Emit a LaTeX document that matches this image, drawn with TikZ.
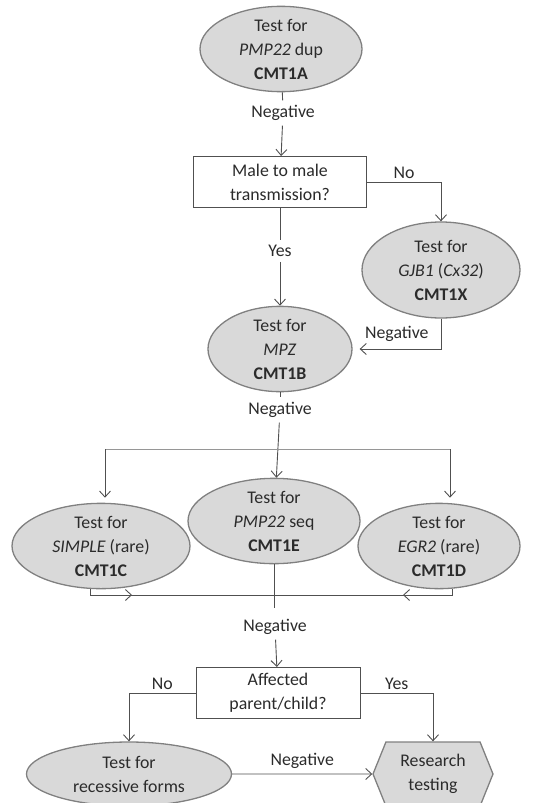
\documentclass[tikz,border=0pt]{standalone}
\usepackage{fontspec}
\setmainfont{Carlito}
\usetikzlibrary{shapes.geometric,shapes.symbols,arrows.meta}
\definecolor{txtgray}{HTML}{2B2B2B}
\definecolor{linegray}{HTML}{505050}
\definecolor{fillgray}{HTML}{D9D9D9}

\begin{document}
\begin{tikzpicture}[x=1pt,y=-1pt,line width=0.9pt,draw=linegray,text=txtgray,
  >={Straight Barb[length=6pt,width=11pt]},
  font=\fontsize{17.8}{24}\selectfont,
  test/.style={ellipse,draw=gray,line width=1.3pt,fill=fillgray,align=center,inner sep=0pt},
  question/.style={rectangle,draw=linegray,fill=white,align=center,minimum width=164pt,minimum height=51pt,inner sep=0pt},
  research/.style={signal,signal to=west and east,signal pointer angle=136,draw=gray,line width=1.3pt,fill=fillgray,align=center,minimum width=120pt,minimum height=64pt,inner sep=0pt},
  lbl/.style={inner sep=1pt,outer sep=4pt}]
\useasboundingbox (0,0) rectangle (534,803);

\node[test,minimum width=162pt,minimum height=80pt] (cmta) at (281,49) {Test for\\\textit{PMP22} dup\\\textbf{CMT1A}};
\node[lbl] (nega) at (283,113) {Negative};
\node[question,minimum width=173pt] (male) at (280,182) {Male to male\\transmission?};
\node[lbl] (yesa) at (280,251) {Yes};
\node[test,minimum width=158pt,minimum height=96pt] (cmtx) at (441,270) {Test for\\\textit{GJB1} (\textit{Cx32})\\\textbf{CMT1X}};
\node[test,minimum width=144pt,minimum height=76pt] (cmtb) at (280,349) {Test for\\\textit{MPZ}\\\textbf{CMT1B}};
\node[lbl] (negb) at (280,410) {Negative};

\node[test,minimum width=172pt,minimum height=82pt] (cmte) at (274,521) {Test for\\\textit{PMP22} seq\\\textbf{CMT1E}};
\node[test,minimum width=178pt,minimum height=70pt] (cmtc) at (101,546) {Test for\\\textit{SIMPLE} (rare)\\\textbf{CMT1C}};
\node[test,minimum width=162pt,minimum height=70pt] (cmtd) at (439,546) {Test for\\\textit{EGR2} (rare)\\\textbf{CMT1D}};
\node[lbl] (negc) at (275,627) {Negative};
\node[question] (parent) at (278,693) {Affected\\parent/child?};
\node[test,minimum width=205pt,minimum height=64pt] (recess) at (129,774) {Test for\\recessive forms};
\node[research] (resr) at (433,774) {Research\\testing};

\coordinate (splitL) at (105,449);
\coordinate (splitR) at (450,449);
\coordinate (joinL) at (90,595);
\coordinate (joinR) at (452,595);
\coordinate (tipL) at (132,595);
\coordinate (tipR) at (403,595);
\coordinate (joinM) at (274,608);

\draw (cmta) -- (nega);
\draw[->] (nega) -- (male);
\draw (male) -- (yesa);
\draw[->] (yesa) -- (cmtb);
\draw[->] (male.east) -| (cmtx) node[pos=0.25,above] {No};
\draw[->,shorten >=7pt] (cmtx.south) |- (cmtb.east) node[pos=0.75,above,yshift=4pt] {Negative};
\draw (cmtb) -- (negb);
\draw[->] (negb) -- (cmte);

\draw[linegray!60] (splitL) -- (splitR);
\draw[->,shorten >=5pt] (splitL) -- (splitL |- cmtc.north);
\draw[->,shorten >=5pt] (splitR) -- (splitR |- cmtd.north);

\draw (cmtc.south -| joinL) -- (joinL) -- (joinR) -- (joinR |- cmtd.south);
\draw[->] (joinL) -- (tipL);
\draw[->] (joinR) -- (tipR);
\draw (cmte) -- (joinM);
\draw[->] (negc) -- (parent);

\draw[->] (parent.west) -| (recess) node[pos=0.25,above] {No};
\draw[->] (parent.east) -| (resr) node[pos=0.25,above] {Yes};
\draw[->] (recess) -- (resr) node[midway,above,yshift=2pt] {Negative};
\end{tikzpicture}
\end{document}
